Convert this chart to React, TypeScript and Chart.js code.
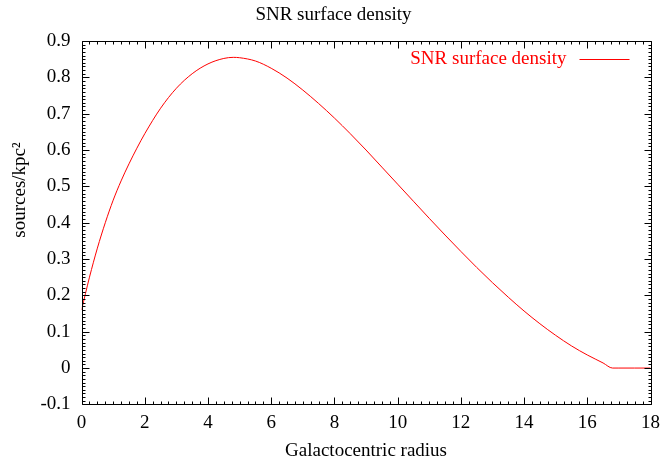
import React, { useEffect, useRef } from "react";
import { Chart, registerables } from "chart.js";

Chart.register(...registerables);

const radius = [0, 0.25, 0.5, 0.75, 1, 1.25, 1.5, 1.75, 2, 2.5, 3, 3.5, 4, 4.5, 4.8, 5, 5.5, 6, 6.5, 7, 7.5, 8, 8.5, 9, 9.5, 10, 10.5, 11, 11.5, 12, 12.5, 13, 13.5, 14, 14.5, 15, 15.5, 16, 16.5, 16.8, 17, 17.5, 18];
const density = [0.16, 0.25, 0.33, 0.4, 0.462, 0.515, 0.562, 0.605, 0.645, 0.715, 0.77, 0.81, 0.837, 0.852, 0.855, 0.854, 0.845, 0.825, 0.798, 0.765, 0.728, 0.688, 0.645, 0.6, 0.553, 0.506, 0.459, 0.412, 0.366, 0.321, 0.277, 0.235, 0.195, 0.157, 0.122, 0.09, 0.061, 0.036, 0.014, 0, 0, 0, 0];

const seriesLabel = "SNR surface density";
const chartTitle = "SNR surface density";
const xTitle = "Galactocentric radius";
const yTitle = "sources/kpc\u00B2";
const xMin = 0, xMax = 18, xStep = 2, xMinorDiv = 8;
const yMin = -0.1, yMax = 0.9, yStep = 0.1, yMinorDiv = 10;

const FONT = "'Liberation Serif', 'Times New Roman', serif";
const FS = 19;

const gnuplotFrame = {
  id: "gnuplotFrame",
  afterDatasetsDraw(chart: any) {
    const ctx = chart.ctx;
    const { left, right, top, bottom } = chart.chartArea;
    const xs = chart.scales.x;
    const ys = chart.scales.y;
    ctx.save();
    ctx.strokeStyle = "#000";
    ctx.lineWidth = 1;
    const L = Math.round(left) + 0.5, R = Math.round(right) + 0.5, T = Math.round(top) + 0.5, B = Math.round(bottom) + 0.5;
    ctx.beginPath();
    ctx.rect(L, T, R - L, B - T);
    ctx.stroke();
    const major = 7, minor = 3;
    ctx.beginPath();
    const nx = Math.round((xMax - xMin) / xStep) * xMinorDiv;
    for (let i = 0; i <= nx; i++) {
      const v = xMin + (i * xStep) / xMinorDiv;
      const px = Math.round(xs.getPixelForValue(v)) + 0.5;
      const len = i % xMinorDiv === 0 ? major : minor;
      ctx.moveTo(px, B); ctx.lineTo(px, B - len);
      ctx.moveTo(px, T); ctx.lineTo(px, T + len);
    }
    const ny = Math.round((yMax - yMin) / yStep) * yMinorDiv;
    for (let i = 0; i <= ny; i++) {
      const v = yMin + (i * yStep) / yMinorDiv;
      const py = Math.round(ys.getPixelForValue(v)) + 0.5;
      const len = i % yMinorDiv === 0 ? major : minor;
      ctx.moveTo(L, py); ctx.lineTo(L + len, py);
      ctx.moveTo(R, py); ctx.lineTo(R - len, py);
    }
    ctx.stroke();

    // chart title, centred on the canvas like gnuplot
    ctx.fillStyle = "#000";
    ctx.font = `${FS}px ${FONT}`;
    ctx.textAlign = "center";
    ctx.textBaseline = "middle";
    ctx.fillText(chartTitle, chart.width / 2, 15);

    // y axis title (rotated)
    ctx.save();
    ctx.translate(20, 190);
    ctx.rotate(-Math.PI / 2);
    ctx.fillText(yTitle, 0, 0);
    ctx.restore();

    // legend (gnuplot style: text then line sample, top right)
    const ly = Math.round(top + 18) + 0.5;
    ctx.fillStyle = "#ff0000";
    ctx.textAlign = "right";
    ctx.fillText(seriesLabel, right - 84, ly);
    ctx.strokeStyle = "#ff0000";
    ctx.beginPath();
    ctx.moveTo(right - 71, ly);
    ctx.lineTo(right - 21, ly);
    ctx.stroke();
    ctx.restore();
  },
};

export default function App() {
  const ref = useRef<HTMLCanvasElement>(null);
  useEffect(() => {
    if (!ref.current) return;
    const chart = new Chart(ref.current, {
      type: "line",
      data: {
        datasets: [
          {
            label: seriesLabel,
            data: radius.map((r, i) => ({ x: r, y: density[i] })),
            borderColor: "#ff0000",
            borderWidth: 1,
            pointRadius: 0,
            cubicInterpolationMode: "monotone",
            fill: false,
          },
        ],
      },
      options: {
        animation: false,
        responsive: false,
        maintainAspectRatio: false,
        layout: { padding: { left: 29.5, right: 16, top: 41, bottom: 0 } },
        plugins: {
          legend: { display: false },
          tooltip: { enabled: false },
          title: { display: false },
        },
        scales: {
          x: {
            type: "linear",
            min: xMin,
            max: xMax,
            grid: { display: false, drawTicks: false },
            border: { display: false },
            ticks: {
              stepSize: xStep,
              color: "#000",
              padding: 7,
              font: { family: FONT, size: FS },
              maxRotation: 0,
            },
            title: {
              display: true,
              text: xTitle,
              color: "#000",
              font: { family: FONT, size: FS },
              padding: { top: -2, bottom: 7 },
            },
          },
          y: {
            type: "linear",
            min: yMin,
            max: yMax,
            grid: { display: false, drawTicks: false },
            border: { display: false },
            ticks: {
              stepSize: yStep,
              color: "#000",
              padding: 11,
              font: { family: FONT, size: FS },
              callback: (v: any) => String(Number(Number(v).toFixed(1))),
            },
            title: { display: false },
          },
        },
      },
      plugins: [gnuplotFrame],
    });
    return () => chart.destroy();
  }, []);
  return (
    <div style={{ position: "absolute", left: 0, top: 0, width: 667, height: 469, background: "#fff" }}>
      <canvas ref={ref} width={667} height={469} style={{ display: "block" }} />
    </div>
  );
}
